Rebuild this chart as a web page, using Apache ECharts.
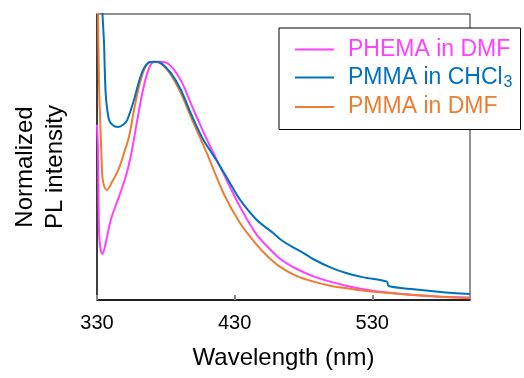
<!DOCTYPE html>
<html>
<head>
<meta charset="utf-8">
<script src="https://cdn.jsdelivr.net/npm/echarts@6/dist/echarts.min.js"></script>
<style>
  html, body { margin: 0; padding: 0; background: #fff; }
  #chart { width: 524px; height: 378px; }
</style>
</head>
<body>
<div id="chart"></div>
<script>
// values (wavelength in nm, normalized PL)
const xTicks = [330, 430, 530]

const phemaDmfWl = [330, 330.7, 331.5, 332.6, 333.9, 336.3, 340, 346, 350.9, 354.5, 359.3, 362.9, 366.6, 370.2, 375.1, 380, 386, 392, 398.1, 406.6, 409.8, 421.9, 434, 446.1, 458.2, 463.1, 470.4, 475.2, 487.3, 499.5, 511.6, 523.7, 540.7, 560, 579.5, 601]
const phemaDmfVal = [0.735, 0.63, 0.282, 0.21, 0.193, 0.238, 0.336, 0.434, 0.518, 0.602, 0.756, 0.868, 0.953, 0.995, 1.0, 0.997, 0.966, 0.91, 0.826, 0.714, 0.674, 0.53, 0.39, 0.273, 0.198, 0.172, 0.145, 0.13, 0.099, 0.077, 0.059, 0.045, 0.031, 0.021, 0.014, 0.011]

const pmmaChclWl = [333.5, 333.9, 335.1, 336.3, 338.7, 341.5, 345.3, 349, 352, 356.9, 360.5, 364.2, 367.8, 371.5, 376.3, 383.6, 390.9, 398.1, 406.6, 413, 419.5, 426.7, 434, 446.1, 458.2, 463.1, 470.4, 477.6, 487.3, 499.5, 511.6, 523.7, 540.7, 541.8, 560, 579.5, 601]
const pmmaChclVal = [1.5, 1.22, 1.079, 0.868, 0.756, 0.733, 0.726, 0.735, 0.756, 0.84, 0.917, 0.974, 0.997, 1.0, 0.995, 0.953, 0.882, 0.784, 0.679, 0.62, 0.56, 0.49, 0.42, 0.336, 0.28, 0.255, 0.228, 0.205, 0.171, 0.137, 0.112, 0.095, 0.077, 0.059, 0.045, 0.034, 0.025]

const pmmaDmfWl = [330.2, 330.7, 331.5, 333.1, 333.9, 335.3, 337.1, 341.1, 346, 349.6, 353.3, 356.9, 360.5, 364.2, 367.8, 372.7, 377.5, 383.6, 390.9, 398.1, 406.6, 409.8, 421.9, 434, 446.1, 453.4, 463.1, 475.2, 487.3, 499.5, 511.6, 523.7, 540.7, 560, 579.5, 601]
const pmmaDmfVal = [1.5, 1.218, 0.9, 0.63, 0.518, 0.475, 0.462, 0.497, 0.553, 0.616, 0.686, 0.798, 0.896, 0.966, 0.997, 1.0, 0.987, 0.945, 0.868, 0.77, 0.658, 0.616, 0.448, 0.322, 0.231, 0.186, 0.139, 0.1, 0.077, 0.06, 0.049, 0.039, 0.03, 0.021, 0.014, 0.007]

const MAGENTA = '#ff40ff'
const BLUE = '#0070c0'
const ORANGE = '#ed7d31'
const FONT = '"Liberation Sans", Arial, sans-serif'

function pairs(xs, ys) {
  return xs.map((x, i) => [x, ys[i]])
}

function lineSeries(name, color, xs, ys) {
  return {
    name: name,
    type: 'line',
    data: pairs(xs, ys),
    smooth: 0.3,
    symbol: 'none',
    clip: true,
    lineStyle: { color: color, width: 2 },
    itemStyle: { color: color }
  }
}

const chart = echarts.init(document.getElementById('chart'), null, { renderer: 'canvas' })

chart.setOption({
  animation: false,
  textStyle: { fontFamily: FONT },
  grid: {
    left: 97,
    right: 54,
    top: 14,
    bottom: 78,
    show: true,
    borderColor: '#222',
    borderWidth: 1
  },
  xAxis: {
    type: 'value',
    min: 330,
    max: 601,
    interval: 100,
    axisLine: { lineStyle: { color: '#000', width: 1.5 } },
    axisTick: { inside: true, length: 5, lineStyle: { color: '#888', width: 2 } },
    splitLine: { show: false },
    axisLabel: {
      color: '#000',
      fontSize: 20,
      margin: 13,
      showMaxLabel: false,
      formatter: v => (xTicks.includes(v) ? String(v) : '')
    },
    name: 'Wavelength (nm)',
    nameLocation: 'middle',
    nameGap: 46,
    nameTextStyle: { color: '#000', fontSize: 24 }
  },
  yAxis: {
    type: 'value',
    min: 0,
    max: 1.2,
    axisLine: { show: true, lineStyle: { color: '#222', width: 1.5 } },
    axisTick: { show: false },
    axisLabel: { show: false },
    splitLine: { show: false }
  },
  legend: {
    orient: 'vertical',
    left: 279,
    top: 28,
    padding: [10, 8, 11, 16],
    icon: 'rect',
    itemWidth: 39,
    itemHeight: 2,
    itemGap: 5,
    backgroundColor: '#fff',
    borderColor: '#000',
    borderWidth: 1,
    borderRadius: 0,
    data: [
      { name: 'PHEMA in DMF', textStyle: { color: MAGENTA } },
      { name: 'PMMA in CHCl3', textStyle: { color: BLUE } },
      { name: 'PMMA in DMF', textStyle: { color: ORANGE } }
    ],
    formatter: name => (name === 'PMMA in CHCl3' ? 'PMMA in CHCl{s|3}' : name),
    textStyle: {
      fontSize: 23,
      padding: [0, 0, 0, 9],
      rich: {
        s: { fontSize: 16, color: BLUE, verticalAlign: 'bottom', padding: [10, 0, 0, 1] }
      }
    }
  },
  graphic: [
    {
      type: 'text',
      x: 40,
      y: 167,
      rotation: Math.PI / 2,
      style: {
        text: 'Normalized\nPL intensity',
        fontSize: 24,
        fontFamily: FONT,
        fill: '#000',
        align: 'center',
        verticalAlign: 'middle',
        lineHeight: 30
      }
    }
  ],
  series: [
    lineSeries('PHEMA in DMF', MAGENTA, phemaDmfWl, phemaDmfVal),
    lineSeries('PMMA in DMF', ORANGE, pmmaDmfWl, pmmaDmfVal),
    lineSeries('PMMA in CHCl3', BLUE, pmmaChclWl, pmmaChclVal)
  ]
})
</script>
</body>
</html>
